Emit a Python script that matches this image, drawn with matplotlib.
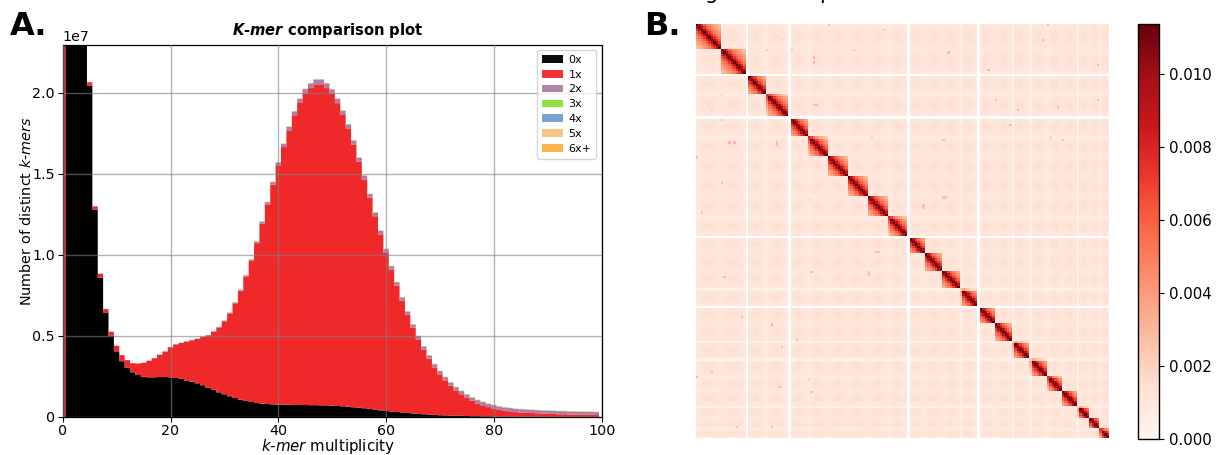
import numpy as np
import matplotlib
matplotlib.use("Agg")
import matplotlib.pyplot as plt
from matplotlib.patches import Patch

W, H = 1220, 455

# ---------- Panel A: k-mer spectrum, values in units of 1e6, bins 0..99 ----------
multiplicity = list(range(100))
zero_x = [0, 60, 45, 35, 26, 20.45, 12.8, 8.6, 6.42, 5.02,
          4.05, 3.44, 3.05, 2.76, 2.59, 2.49, 2.45, 2.45, 2.47, 2.47,
          2.45, 2.41, 2.35, 2.26, 2.18, 2.08, 1.96, 1.81, 1.67, 1.52,
          1.40, 1.28, 1.17, 1.07, .99, .93, .86, .82, .80, .78,
          .76, .75, .75, .74, .74, .74, .73, .73, .72, .72,
          .70, .68, .66, .63, .60, .57, .54, .50, .46, .41,
          .37, .34, .31, .28, .25, .22, .19, .17, .15, .13,
          .11, .10, .09, .08, .07, .06, .05, .05, .04, .04,
          .03, .03, .03, .03, .02, .02, .02, .02, .02, .02,
          .02, .01, .01, .01, .01, .01, .01, .01, .01, .01]
top_total = [30, 61, 46, 36, 27, 20.68, 13.02, 8.85, 6.67, 5.27,
             4.40, 3.83, 3.52, 3.33, 3.31, 3.35, 3.48, 3.64, 3.85, 4.05,
             4.32, 4.49, 4.59, 4.67, 4.75, 4.84, 4.96, 5.06, 5.29, 5.56,
             5.97, 6.46, 7.10, 7.86, 8.77, 9.75, 10.86, 12.08, 13.29, 14.53,
             15.74, 16.89, 17.94, 18.89, 19.67, 20.27, 20.62, 20.86, 20.86, 20.62,
             20.25, 19.67, 18.93, 18.09, 17.10, 16.03, 14.92, 13.79, 12.65, 11.52,
             10.39, 9.34, 8.35, 7.41, 6.54, 5.74, 5.02, 4.38, 3.83, 3.29,
             2.86, 2.49, 2.16, 1.87, 1.63, 1.42, 1.23, 1.07, .95, .84,
             .76, .68, .62, .58, .53, .51, .49, .47, .45, .43,
             .43, .41, .39, .39, .37, .37, .35, .35, .35, .33]
two_x = [0, 0, 0, 0, 0, .02, .02, .01, .01, .01,
         .01, .01, .01, .01, .01, .01, .01, .01, .01, .01,
         .01, .01, .01, .01, .01, .01, .02, .02, .02, .03,
         .03, .04, .05, .06, .07, .08, .10, .12, .14, .16,
         .18, .20, .22, .24, .26, .27, .29, .30, .30, .29,
         .28, .27, .26, .25, .25, .24, .24, .23, .23, .22,
         .22, .22, .21, .21, .20, .20, .20, .20, .20, .20,
         .20, .20, .20, .20, .20, .20, .20, .20, .20, .20,
         .20, .20, .20, .20, .20, .20, .20, .19, .19, .19,
         .19, .19, .19, .19, .19, .19, .18, .18, .18, .18]
three_x = [0.0] * 30 + [0.015] * 70
four_x = [0.0] * 100
five_x = [0.0] * 30 + [0.015] * 70
six_x = [0.0] * 100

series_labels = ['0x', '1x', '2x', '3x', '4x', '5x', '6x+']
series_colors = ['#000000', '#ef2929', '#ad7fa8', '#8ae234', '#729fcf', '#f5c27f', '#fcaf3e']
x_ticks = [0, 20, 40, 60, 80, 100]
y_ticks = [0, 5e6, 1e7, 1.5e7, 2e7]
y_tick_labels = ['0', '0.5', '1.0', '1.5', '2.0']

# ---------- Panel B: Hi-C map ----------
# Chromosome block sizes (in map bins), which block edges
# show a blank line, contact levels, and the brighter isolated cells. Individual
# cells are too many to read, so the within-block and between-block texture below is
# a deterministic approximation built from those readings.
chrom_bins = [10, 10, 8, 9, 8, 8, 8, 8, 8, 8, 7, 7, 7, 7, 7, 7, 7, 7, 6, 6, 5, 4, 4]
blank_strong = [20, 37, 85, 113]
blank_medium = [106, 127, 134, 153]
blank_weak = [28, 45, 77, 141, 162]
background_level = 0.00095
centre_spot_level = 0.00055
diagonal_level = 0.0092
block_fill_level = 0.0034
speckle_rows = [15, 32, 10, 48, 2, 0, 10, 38, 47, 45, 34, 20, 18, 11, 6, 0, 16, 30, 34, 33, 46, 46, 40, 30, 45, 69, 91, 100, 73]
speckle_cols = [47, 47, 28, 32, 75, 53, 63, 10, 13, 70, 6, 113, 117, 101, 139, 141, 161, 120, 129, 145, 99, 147, 126, 161, 142, 99, 72, 69, 91]
speckle_vals = [.003, .0028, .0028, .0028, .0024, .0028, .0024, .0026, .0028, .0024, .0024, .006, .003, .0028, .0028, .004, .0028, .0028, .0028, .0026, .0028, .0026, .0028, .0028, .0026, .0026, .0026, .0026, .0026]
colorbar_ticks = [0, .002, .004, .006, .008, .010]
map_top = 0.01137


def build_matrix():
    n = sum(chrom_bins)
    block = np.repeat(np.arange(len(chrom_bins)), chrom_bins)
    edges = np.concatenate([[0], np.cumsum(chrom_bins)])
    frac = (np.arange(n) + 0.5 - edges[block]) / np.array(chrom_bins)[block]
    spot = np.exp(-((frac - 0.5) / 0.27) ** 2)
    m = background_level + centre_spot_level * np.outer(spot, spot)
    ii, jj = np.indices((n, n))
    same = block[ii] == block[jj]
    d = np.abs(ii - jj)
    size = np.array(chrom_bins)[block][ii]
    fade = 1 - 0.8 * d / size
    m = np.where(same, background_level + block_fill_level * fade
                 + diagonal_level * (1 + d / 2.2) ** -1.5, m)
    for r, c, v in zip(speckle_rows, speckle_cols, speckle_vals):
        m[r, c] = m[c, r] = v
    for idx, f in [(blank_medium, .4), (blank_weak, .75)]:
        m[idx, :] *= f
        m[:, idx] *= f
    m[blank_strong, :] = np.nan
    m[:, blank_strong] = np.nan
    return m


def axes_px(fig, left, top, right, bottom):
    return fig.add_axes([left / W, 1 - bottom / H, (right - left) / W, (bottom - top) / H])


fig = plt.figure(figsize=(W / 100, H / 100), dpi=100)
FS = 10.3

# Panel A
ax = axes_px(fig, 62.7, 45, 601.7, 417)
values = [zero_x, None, two_x, three_x, four_x, five_x, six_x]
others = np.sum([two_x, three_x, four_x, five_x, six_x], axis=0)
values[1] = np.clip(np.array(top_total) - np.array(zero_x) - others, 0, None)
bin_edges = np.append(np.array(multiplicity) - 0.5, multiplicity[-1] + 0.5)
bottom = np.zeros(len(multiplicity))
for vals, col in zip(values, series_colors):
    v = np.array(vals) * 1e6
    patch = ax.stairs(bottom + v, bin_edges, baseline=bottom, fill=True, color=col, linewidth=0)
    patch.set_snap(False)
    bottom = bottom + v
ax.set_xlim(0, 100)
ax.set_ylim(0, 2.296e7)
ax.set_xticks(x_ticks)
ax.set_yticks(y_ticks)
ax.set_yticklabels(y_tick_labels)
ax.tick_params(labelsize=FS, length=3.5)
ax.tick_params(axis='x', pad=1.5)
ax.tick_params(axis='y', pad=2)
ax.set_axisbelow(False)
ax.grid(True, color='#808080', alpha=0.6, linewidth=1.0)
ax.set_xlabel(r'$\it{k}$-$\it{mer}$ multiplicity', fontsize=10.8, labelpad=-1, x=0.492)
ax.set_ylabel(r'Number of distinct $\it{k}$-$\it{mers}$', fontsize=10.4, labelpad=-1.5, y=0.552)
ax.set_title(r'$\bfit{K}$-$\bfit{mer}$ comparison plot', fontsize=10.6, fontweight='bold', pad=7, x=0.492)
ax.text(0, 1.004, '1e7', transform=ax.transAxes, fontsize=FS, ha='left', va='bottom')
for s in ax.spines.values():
    s.set_linewidth(0.9)
handles = [Patch(facecolor=c, alpha=0.95, label=l) for c, l in zip(series_colors, series_labels)]
leg = ax.legend(handles=handles, loc='upper right', fontsize=8, bbox_to_anchor=(0.9895, 0.9865),
                borderaxespad=0, handlelength=1.9, labelspacing=0.44, handletextpad=0.5,
                borderpad=0.42)
leg.set_zorder(10)

# Panel B
axm = axes_px(fig, 696, 24, 1109, 438)
im = axm.imshow(build_matrix(), cmap='Reds', vmin=0, vmax=map_top, aspect='auto', interpolation='nearest')
axm.axis('off')
cax = axes_px(fig, 1138, 24, 1159, 439)
cb = fig.colorbar(im, cax=cax)
cb.set_ticks(colorbar_ticks)
cb.set_ticklabels(['0.000', '0.002', '0.004', '0.006', '0.008', '0.010'])
cax.tick_params(labelsize=FS * 1.05, length=3.5, pad=4)
cb.outline.set_linewidth(1.0)

# Panel letters and the clipped remains of a title above panel B
fig.text(10 / W, 1 - 35 / H, 'A.', fontsize=23, fontweight='bold', va='baseline')
fig.text(644 / W, 1 - 35 / H, 'B.', fontsize=23, fontweight='bold', va='baseline')
fig.text(705 / W, 1 + 1 / H, 'g', fontsize=15, va='baseline')
fig.text(819 / W, 1 + 1 / H, 'p', fontsize=15, va='baseline')

fig.savefig('out.png', dpi=100)
